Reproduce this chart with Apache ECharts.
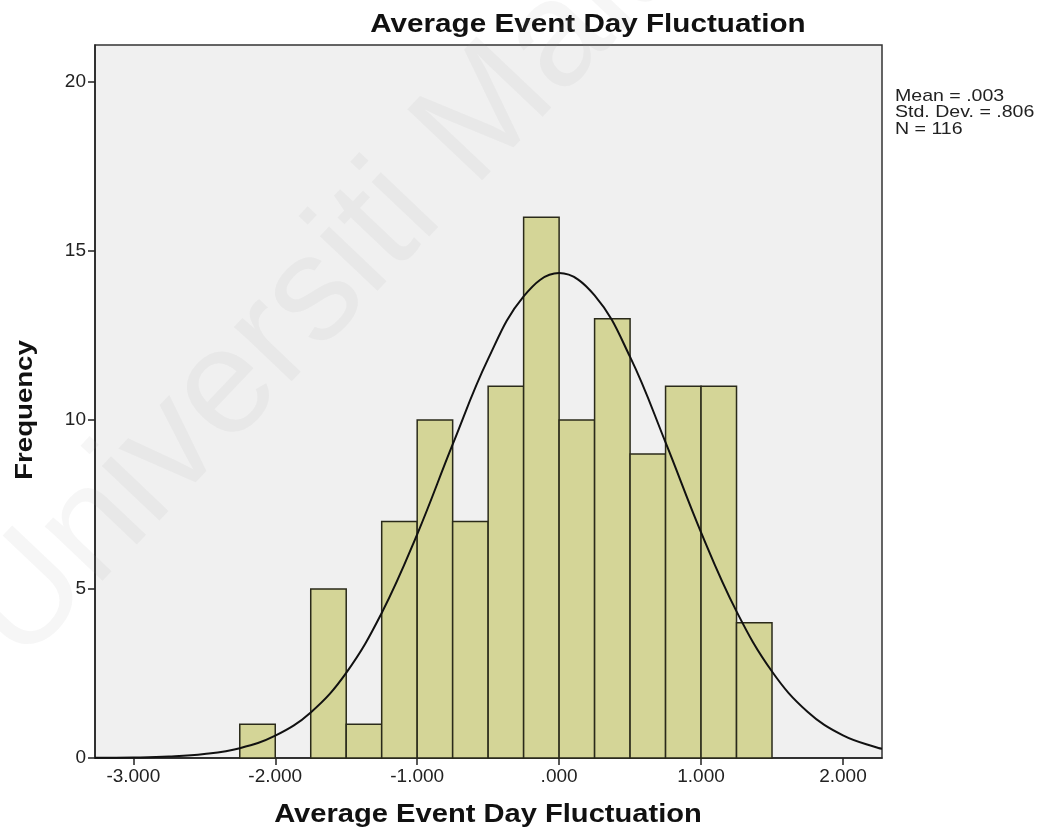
<!DOCTYPE html>
<html>
<head>
<meta charset="utf-8">
<script src="https://cdn.jsdelivr.net/npm/echarts@6/dist/echarts.min.js"></script>
<style>
html,body{margin:0;padding:0;background:#fff;}
#chart{width:1055px;height:838px;}
</style>
</head>
<body>
<div id="chart"></div>
<script>
// ---- data ----
const chartTitle = 'Average Event Day Fluctuation';
const xAxisTitle = 'Average Event Day Fluctuation';
const yAxisTitle = 'Frequency';
const statsLines = ['Mean = .003', 'Std. Dev. = .806', 'N = 116'];
const binEdges = [-2.25, -2.0, -1.75, -1.5, -1.25, -1.0, -0.75, -0.5, -0.25, 0.0, 0.25, 0.5, 0.75, 1.0, 1.25, 1.5];
const binCounts = [1, 0, 5, 1, 7, 10, 7, 11, 16, 10, 13, 9, 11, 11, 4];
const xTicks = [-3, -2, -1, 0, 1, 2];
const yTicks = [0, 5, 10, 15, 20];
// normal curve
const curveX = [-3.27, -3.0, -2.75, -2.5, -2.25, -2.0, -1.75, -1.5, -1.25, -1.0, -0.75, -0.5, -0.25, 0.0, 0.25, 0.5, 0.75, 1.0, 1.25, 1.5, 1.75, 2.0, 2.25, 2.275];
const curveY = [0.004, 0.014, 0.042, 0.116, 0.29, 0.66, 1.35, 2.52, 4.29, 6.62, 9.28, 11.81, 13.66, 14.35, 13.69, 11.87, 9.34, 6.68, 4.34, 2.56, 1.37, 0.67, 0.295, 0.275];

const barData = [];
for (let i = 0; i < binCounts.length; i++) {
  if (binCounts[i] > 0) barData.push([binEdges[i], binEdges[i + 1], binCounts[i]]);
}
const curveData = curveX.map((x, i) => [x, curveY[i]]);

const fmtX = v => (v === 0 ? '.000' : v.toFixed(3));

const chart = echarts.init(document.getElementById('chart'), null, {renderer: 'canvas'});
const option = {
  backgroundColor: '#ffffff',
  animation: false,
  grid: {
    left: 95, right: 173, top: 45, bottom: 80,
    show: true, backgroundColor: '#f0f0f0', borderColor: '#333', borderWidth: 1.5
  },
  xAxis: {
    type: 'value', min: -3.27, max: 2.275,
    splitLine: {show: false},
    axisLine: {show: true, onZero: false, lineStyle: {color: '#222', width: 1.5}},
    axisTick: {show: true, customValues: xTicks, length: 7, lineStyle: {color: '#222', width: 1.5}},
    axisLabel: {customValues: xTicks, formatter: fmtX, color: '#222', fontSize: 19, fontFamily: 'Liberation Sans, Arial', margin: 9}
  },
  yAxis: {
    type: 'value', min: 0, max: 21.1,
    splitLine: {show: false},
    axisLine: {show: true, onZero: false, lineStyle: {color: '#222', width: 1.5}},
    axisTick: {show: true, customValues: yTicks, length: 7, lineStyle: {color: '#222', width: 1.5}},
    axisLabel: {customValues: yTicks, color: '#222', fontSize: 19, fontFamily: 'Liberation Sans, Arial', margin: 9}
  },
  series: [
    {
      type: 'custom',
      data: barData,
      z: 2,
      renderItem: function (params, api) {
        const p0 = api.coord([api.value(0), api.value(2)]);
        const p1 = api.coord([api.value(1), 0]);
        return {
          type: 'rect',
          shape: {x: p0[0], y: p0[1], width: p1[0] - p0[0], height: p1[1] - p0[1]},
          style: {fill: '#d4d597', stroke: '#2a2a1a', lineWidth: 1.5}
        };
      }
    },
    {
      type: 'line',
      data: curveData,
      smooth: 0.4,
      showSymbol: false,
      z: 5,
      lineStyle: {color: '#111', width: 2}
    }
  ],
  graphic: [
    {
      type: 'text', x: 588, y: 25, scaleX: 1.14, z: 10,
      style: {text: chartTitle, font: 'bold 26px "Liberation Sans", Arial', fill: '#111', align: 'center', verticalAlign: 'middle'}
    },
    {
      type: 'text', x: 488, y: 815, scaleX: 1.12, z: 10,
      style: {text: xAxisTitle, font: 'bold 26px "Liberation Sans", Arial', fill: '#111', align: 'center', verticalAlign: 'middle'}
    },
    {
      type: 'text', x: 26, y: 410, rotation: Math.PI / 2, scaleX: 1.2, z: 10,
      style: {text: yAxisTitle, font: 'bold 23px "Liberation Sans", Arial', fill: '#111', align: 'center', verticalAlign: 'middle'}
    },
    {
      type: 'text', x: 895, y: 88, scaleX: 1.15, z: 10,
      style: {text: statsLines.join('\n'), font: '17px "Liberation Sans", Arial', lineHeight: 16.5, fill: '#222', align: 'left', verticalAlign: 'top'}
    },
    {
      type: 'text', x: 45, y: 690, rotation: Math.PI * 46.5 / 180, z: 20, silent: true,
      style: {text: 'Universiti Malaya', font: '150px "Liberation Sans", Arial', fill: 'rgba(150,150,150,0.09)', align: 'left', verticalAlign: 'bottom'}
    }
  ]
};
chart.setOption(option);
</script>
</body>
</html>
